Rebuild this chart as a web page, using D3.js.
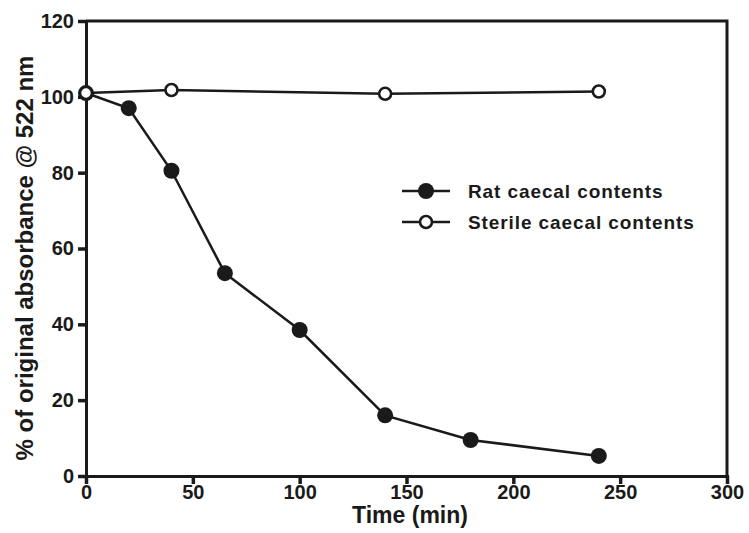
<!DOCTYPE html>
<html>
<head>
<meta charset="utf-8">
<script src="https://cdn.jsdelivr.net/npm/d3@7"></script>
<style>
  body { margin: 0; background: #fff; }
  text { font-family: "Liberation Sans", Arial, sans-serif; font-weight: bold; fill: #1a1a1a; }
</style>
</head>
<body>
<svg id="chart" width="749" height="533"></svg>
<script>
const ratTime = [0, 20, 40, 65, 100, 140, 180, 240];
const ratAbs = [101, 97, 80.5, 53.5, 38.5, 16, 9.5, 5.3];
const sterileTime = [0, 40, 140, 240];
const sterileAbs = [101, 101.8, 100.8, 101.4];
const xTicks = [0, 50, 100, 150, 200, 250, 300];
const yTicks = [0, 20, 40, 60, 80, 100, 120];
const seriesNames = ["Rat caecal contents", "Sterile caecal contents"];

const ink = "#1a1a1a";
const svg = d3.select("#chart");
const plotLeft = 86, plotRight = 727, plotTop = 21, plotBottom = 476;

const x = d3.scaleLinear().domain([0, 300]).range([plotLeft, plotRight]);
const y = d3.scaleLinear().domain([0, 120]).range([plotBottom, plotTop]);

// box frame (top + right)
svg.append("path")
  .attr("d", `M ${plotLeft} ${plotTop} H ${plotRight} V ${plotBottom}`)
  .attr("fill", "none")
  .attr("stroke", ink)
  .attr("stroke-width", 3);

const xAxis = svg.append("g")
  .attr("transform", `translate(0,${plotBottom})`)
  .call(d3.axisBottom(x).tickValues(xTicks).tickSize(8).tickPadding(1));
const yAxis = svg.append("g")
  .attr("transform", `translate(${plotLeft},0)`)
  .call(d3.axisLeft(y).tickValues(yTicks).tickSize(8).tickPadding(4));

[xAxis, yAxis].forEach(g => {
  g.select(".domain").attr("stroke", ink).attr("stroke-width", 3);
  g.selectAll(".tick line").attr("stroke", ink).attr("stroke-width", 3.5);
  g.selectAll(".tick text")
    .attr("fill", ink)
    .style("font-size", "20px")
    .style("font-family", "Liberation Sans, Arial, sans-serif")
    .style("font-weight", "bold");
});

svg.append("text")
  .attr("x", 410)
  .attr("y", 523)
  .attr("text-anchor", "middle")
  .style("font-size", "23px")
  .text("Time (min)");

svg.append("text")
  .attr("transform", `translate(33,258) rotate(-90)`)
  .attr("text-anchor", "middle")
  .style("font-size", "24px")
  .text("% of original absorbance @ 522 nm");

const line = d3.line().x(d => x(d[0])).y(d => y(d[1]));
const ratPts = ratTime.map((t, i) => [t, ratAbs[i]]);
const sterilePts = sterileTime.map((t, i) => [t, sterileAbs[i]]);

svg.append("path").attr("d", line(ratPts))
  .attr("fill", "none").attr("stroke", ink).attr("stroke-width", 2.5);
svg.append("path").attr("d", line(sterilePts))
  .attr("fill", "none").attr("stroke", ink).attr("stroke-width", 2.5);

svg.selectAll(".rat").data(ratPts).enter().append("circle")
  .attr("cx", d => x(d[0])).attr("cy", d => y(d[1]))
  .attr("r", 8).attr("fill", ink);
svg.selectAll(".sterile").data(sterilePts).enter().append("circle")
  .attr("cx", d => x(d[0])).attr("cy", d => y(d[1]))
  .attr("r", 6).attr("fill", "#fff").attr("stroke", ink).attr("stroke-width", 2.6);

// legend
const legY = [191, 222];
seriesNames.forEach((name, i) => {
  const g = svg.append("g").attr("transform", `translate(0,${legY[i]})`);
  g.append("line").attr("x1", 402).attr("x2", 450).attr("y1", 0).attr("y2", 0)
    .attr("stroke", ink).attr("stroke-width", 2.5);
  if (i === 0) {
    g.append("circle").attr("cx", 426).attr("cy", 0).attr("r", 8).attr("fill", ink);
  } else {
    g.append("circle").attr("cx", 426).attr("cy", 0).attr("r", 6)
      .attr("fill", "#fff").attr("stroke", ink).attr("stroke-width", 2.6);
  }
  g.append("text").attr("x", 468).attr("y", 7)
    .style("font-size", "19px").style("letter-spacing", "0.9px").text(name);
});
</script>
</body>
</html>
